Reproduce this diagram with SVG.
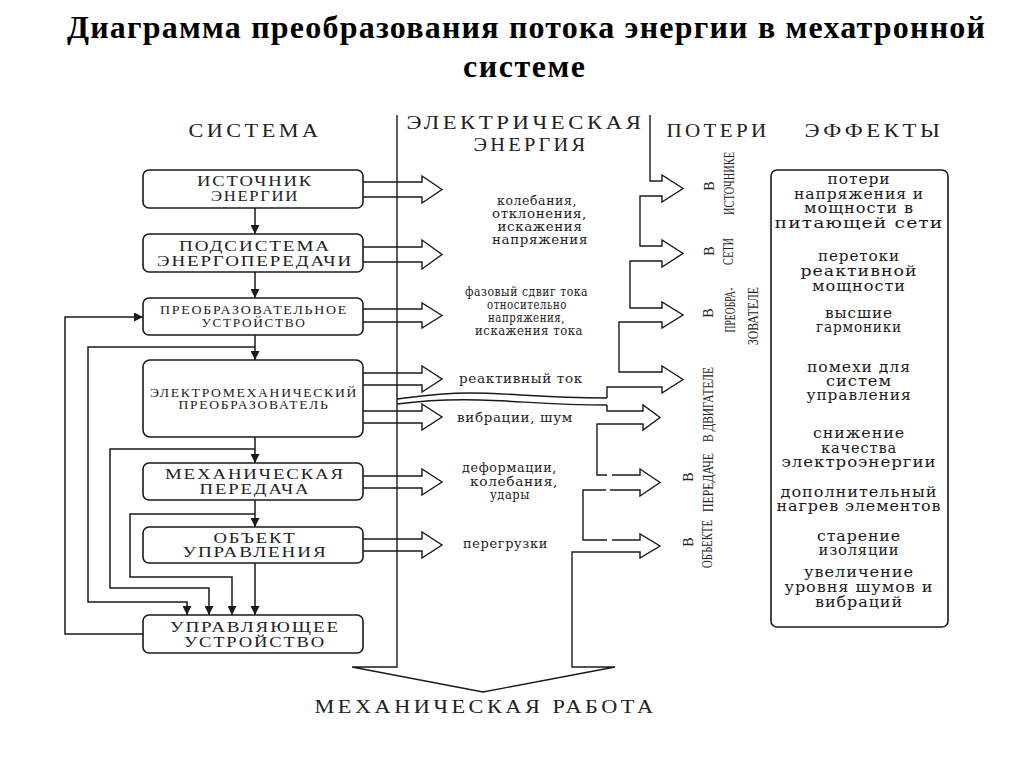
<svg xmlns="http://www.w3.org/2000/svg" width="1024" height="767" viewBox="0 0 1024 767">
<style>
.bg{fill:#fff}
.box{fill:#fff;stroke:#1a1a1a;stroke-width:1.6}
.ln{fill:none;stroke:#1a1a1a;stroke-width:1.5}
.fl{fill:none;stroke:#1a1a1a;stroke-width:1.4;stroke-linejoin:miter}
.ttl{font-family:"Liberation Serif","Times New Roman",serif;font-weight:bold;font-size:32px;fill:#000}
.hd{font-family:"Liberation Serif","Times New Roman",serif;font-size:19px;letter-spacing:3px;fill:#222;text-anchor:middle}
.bx{font-family:"Liberation Serif","Times New Roman",serif;letter-spacing:1.5px;fill:#222;text-anchor:middle}
.md{font-family:"DejaVu Serif","Liberation Serif",serif;font-size:12px;letter-spacing:0.6px;fill:#222;text-anchor:middle}
.ef{font-family:"DejaVu Serif","Liberation Serif",serif;font-size:14px;letter-spacing:0.8px;fill:#1a1a1a;text-anchor:middle}
.vt{font-family:"Liberation Serif","Times New Roman",serif;font-size:14px;fill:#222;text-anchor:middle}
</style>
<defs>
<marker id="ah" viewBox="0 0 10 10" refX="10" refY="5" markerWidth="9" markerHeight="9" markerUnits="userSpaceOnUse" orient="auto">
<path d="M0,0 L10,5 L0,10 z" fill="#1a1a1a"/>
</marker>
</defs>
<rect class="bg" x="0" y="0" width="1024" height="767"/>

<g id="title">
<text class="ttl" x="67" y="38" textLength="918">Диаграмма преобразования потока энергии в мехатронной</text>
<text class="ttl" x="524" y="77" text-anchor="middle" textLength="122">системе</text>
</g>

<g id="headers">
<text class="hd" x="255" y="137" textLength="133" lengthAdjust="spacingAndGlyphs">СИСТЕМА</text>
<text class="hd" x="525.5" y="129" textLength="238" lengthAdjust="spacingAndGlyphs">ЭЛЕКТРИЧЕСКАЯ</text>
<text class="hd" x="531" y="151" textLength="115" lengthAdjust="spacingAndGlyphs">ЭНЕРГИЯ</text>
<text class="hd" x="718" y="137" textLength="103" lengthAdjust="spacingAndGlyphs">ПОТЕРИ</text>
<text class="hd" x="874" y="137" textLength="139" lengthAdjust="spacingAndGlyphs">ЭФФЕКТЫ</text>
<text class="hd" x="485.5" y="713" font-size="20" textLength="342" lengthAdjust="spacingAndGlyphs">МЕХАНИЧЕСКАЯ РАБОТА</text>
</g>

<g id="flows">
<path class="fl" d="M363,182 H422 V176 L442,189.5 L422,203 V197 H363"/>
<path class="fl" d="M363,247 H422 V240 L442,254.5 L422,269 V262 H363"/>
<path class="fl" d="M363,309 H422 V303 L442,315.5 L422,328 V322 H363"/>
<path class="fl" d="M363,373 H422 V366 L442,379 L422,392 V385 H363"/>
<path class="fl" d="M363,411 H422 V404 L442,417 L422,430 V423 H363"/>
<path class="fl" d="M363,476 H422 V469 L442,482 L422,495 V488 H363"/>
<path class="fl" d="M363,539 H422 V532 L442,545 L422,558 V551 H363"/>
<path class="fl" d="M650,115 V181 H662 V175 L683,188.5 L662,202 V196 H640 V246 H662 V240 L683,253.5 L662,267 V261 H630 V308 H662 V302 L683,315 L662,328 V322 H619 V372 H662 V366 L683,379.5 L662,393 V387 H607 V398"/>
<path class="fl" d="M397,399 C420,396 440,393 470,393 C510,393 540,398 607,398"/>
<path class="fl" d="M397,404 C420,401 445,399 480,400 C520,401 550,405 607,405"/>
<path class="fl" d="M607,405 V411 H643 V405 L660,417.5 L643,430 V424 H597 V475 H607 M612,475 H640 V469 L660,482.5 L640,496 V490 H610 M606,490 H583 V540 H607 M612,540 H640 V534 L660,546 L640,558 V552 H572 V667 H615 L483,692 L352,667 H397 V115"/>
</g>

<g id="connectors">
<line class="ln" x1="255" y1="208" x2="255" y2="234" marker-end="url(#ah)"/>
<line class="ln" x1="255" y1="272" x2="255" y2="298" marker-end="url(#ah)"/>
<line class="ln" x1="255" y1="335" x2="255" y2="360" marker-end="url(#ah)"/>
<line class="ln" x1="255" y1="437" x2="255" y2="463" marker-end="url(#ah)"/>
<line class="ln" x1="255" y1="500" x2="255" y2="527" marker-end="url(#ah)"/>
<line class="ln" x1="255" y1="563" x2="255" y2="615" marker-end="url(#ah)"/>
<path class="ln" d="M143,634 H65 V317 H143" marker-end="url(#ah)"/>
<path class="ln" d="M255,347 H88 V602 H187 V615" marker-end="url(#ah)"/>
<path class="ln" d="M255,449 H110 V588 H209 V615" marker-end="url(#ah)"/>
<path class="ln" d="M255,514 H130 V577 H232 V615" marker-end="url(#ah)"/>
</g>

<g id="n-source">
<rect class="box" x="143" y="170" width="220" height="38" rx="6"/>
<text class="bx" x="255" y="186" font-size="15" textLength="116" lengthAdjust="spacingAndGlyphs">ИСТОЧНИК</text>
<text class="bx" x="255" y="201" font-size="15" textLength="88" lengthAdjust="spacingAndGlyphs">ЭНЕРГИИ</text>
</g>
<g id="n-transmission">
<rect class="box" x="143" y="234" width="220" height="38" rx="6"/>
<text class="bx" x="255" y="251" font-size="15" textLength="152" lengthAdjust="spacingAndGlyphs">ПОДСИСТЕМА</text>
<text class="bx" x="255" y="266" font-size="15" textLength="196" lengthAdjust="spacingAndGlyphs">ЭНЕРГОПЕРЕДАЧИ</text>
</g>
<g id="n-converter">
<rect class="box" x="143" y="298" width="220" height="37" rx="6"/>
<text class="bx" x="254" y="314" font-size="12" letter-spacing="0" textLength="188" lengthAdjust="spacingAndGlyphs">ПРЕОБРАЗОВАТЕЛЬНОЕ</text>
<text class="bx" x="254" y="327" font-size="12" letter-spacing="0" textLength="105" lengthAdjust="spacingAndGlyphs">УСТРОЙСТВО</text>
</g>
<g id="n-emconverter">
<rect class="box" x="143" y="360" width="220" height="77" rx="7"/>
<text class="bx" x="254" y="397" font-size="12" letter-spacing="0" textLength="208" lengthAdjust="spacingAndGlyphs">ЭЛЕКТРОМЕХАНИЧЕСКИЙ</text>
<text class="bx" x="254" y="409" font-size="12" letter-spacing="0" textLength="151" lengthAdjust="spacingAndGlyphs">ПРЕОБРАЗОВАТЕЛЬ</text>
</g>
<g id="n-mechtrans">
<rect class="box" x="143" y="463" width="220" height="37" rx="6"/>
<text class="bx" x="255" y="479" font-size="15" textLength="180" lengthAdjust="spacingAndGlyphs">МЕХАНИЧЕСКАЯ</text>
<text class="bx" x="255" y="494" font-size="15" textLength="111" lengthAdjust="spacingAndGlyphs">ПЕРЕДАЧА</text>
</g>
<g id="n-object">
<rect class="box" x="143" y="527" width="220" height="36" rx="6"/>
<text class="bx" x="255" y="543" font-size="15" textLength="83" lengthAdjust="spacingAndGlyphs">ОБЪЕКТ</text>
<text class="bx" x="255" y="557" font-size="15" textLength="145" lengthAdjust="spacingAndGlyphs">УПРАВЛЕНИЯ</text>
</g>
<g id="n-controller">
<rect class="box" x="143" y="615" width="220" height="38" rx="6"/>
<text class="bx" x="255" y="632" font-size="15" textLength="170" lengthAdjust="spacingAndGlyphs">УПРАВЛЯЮЩЕЕ</text>
<text class="bx" x="255" y="647" font-size="15" textLength="142" lengthAdjust="spacingAndGlyphs">УСТРОЙСТВО</text>
</g>

<g id="flow-labels">
<text class="md" x="537" y="205" font-size="11.5" textLength="80" lengthAdjust="spacingAndGlyphs">колебания,</text>
<text class="md" x="539.5" y="218" font-size="11.5" textLength="95" lengthAdjust="spacingAndGlyphs">отклонения,</text>
<text class="md" x="540" y="231" font-size="11.5" textLength="85" lengthAdjust="spacingAndGlyphs">искажения</text>
<text class="md" x="540" y="244" font-size="11.5" textLength="96" lengthAdjust="spacingAndGlyphs">напряжения</text>
<text class="md" x="526.5" y="296" font-size="10.5" letter-spacing="0" textLength="123" lengthAdjust="spacingAndGlyphs">фазовый сдвиг тока</text>
<text class="md" x="527" y="309" font-size="10.5" letter-spacing="0" textLength="80" lengthAdjust="spacingAndGlyphs">относительно</text>
<text class="md" x="526.5" y="322" font-size="10.5" letter-spacing="0" textLength="77" lengthAdjust="spacingAndGlyphs">напряжения,</text>
<text class="md" x="529" y="335" font-size="10.5" letter-spacing="0" textLength="108" lengthAdjust="spacingAndGlyphs">искажения тока</text>
<text class="md" x="521" y="383" textLength="124" lengthAdjust="spacingAndGlyphs">реактивный ток</text>
<text class="md" x="515" y="422" textLength="116" lengthAdjust="spacingAndGlyphs">вибрации, шум</text>
<text class="md" x="509.5" y="472" textLength="95" lengthAdjust="spacingAndGlyphs">деформации,</text>
<text class="md" x="514" y="486" textLength="88" lengthAdjust="spacingAndGlyphs">колебания,</text>
<text class="md" x="510" y="499" textLength="40" lengthAdjust="spacingAndGlyphs">удары</text>
<text class="md" x="505.5" y="548" textLength="85" lengthAdjust="spacingAndGlyphs">перегрузки</text>
</g>

<g id="loss-labels">
<text class="vt" transform="translate(714,186) rotate(-90)">В</text>
<text class="vt" transform="translate(734,183.5) rotate(-90)" textLength="63" lengthAdjust="spacingAndGlyphs">ИСТОЧНИКЕ</text>
<text class="vt" transform="translate(714,251) rotate(-90)">В</text>
<text class="vt" transform="translate(733,251.5) rotate(-90)" textLength="27" lengthAdjust="spacingAndGlyphs">СЕТИ</text>
<text class="vt" transform="translate(713,313) rotate(-90)">В</text>
<text class="vt" transform="translate(735,310) rotate(-90)" textLength="45" lengthAdjust="spacingAndGlyphs">ПРЕОБРА-</text>
<text class="vt" transform="translate(758,316) rotate(-90)" textLength="58" lengthAdjust="spacingAndGlyphs">ЗОВАТЕЛЕ</text>
<text class="vt" transform="translate(713,404.5) rotate(-90)" textLength="75" lengthAdjust="spacingAndGlyphs">В ДВИГАТЕЛЕ</text>
<text class="vt" transform="translate(693,477) rotate(-90)">В</text>
<text class="vt" transform="translate(713,482.5) rotate(-90)" textLength="59" lengthAdjust="spacingAndGlyphs">ПЕРЕДАЧЕ</text>
<text class="vt" transform="translate(693,542) rotate(-90)">В</text>
<text class="vt" transform="translate(712,544) rotate(-90)" textLength="48" lengthAdjust="spacingAndGlyphs">ОБЪЕКТЕ</text>
</g>

<g id="n-effects">
<rect class="box" x="771" y="170" width="177" height="457" rx="6" stroke-width="1.8"/>
<text class="ef" x="859" y="184" textLength="63" lengthAdjust="spacingAndGlyphs">потери</text>
<text class="ef" x="859" y="199" textLength="130" lengthAdjust="spacingAndGlyphs">напряжения и</text>
<text class="ef" x="859" y="213" textLength="110" lengthAdjust="spacingAndGlyphs">мощности в</text>
<text class="ef" x="859" y="228" textLength="169" lengthAdjust="spacingAndGlyphs">питающей сети</text>
<text class="ef" x="859" y="261" textLength="82" lengthAdjust="spacingAndGlyphs">перетоки</text>
<text class="ef" x="859" y="276" textLength="117" lengthAdjust="spacingAndGlyphs">реактивной</text>
<text class="ef" x="859" y="291" textLength="94" lengthAdjust="spacingAndGlyphs">мощности</text>
<text class="ef" x="859" y="318" textLength="68" lengthAdjust="spacingAndGlyphs">высшие</text>
<text class="ef" x="859" y="332" textLength="86" lengthAdjust="spacingAndGlyphs">гармоники</text>
<text class="ef" x="859" y="372" textLength="104" lengthAdjust="spacingAndGlyphs">помехи для</text>
<text class="ef" x="859" y="386" textLength="66" lengthAdjust="spacingAndGlyphs">систем</text>
<text class="ef" x="859" y="400" textLength="105" lengthAdjust="spacingAndGlyphs">управления</text>
<text class="ef" x="859" y="438" textLength="92" lengthAdjust="spacingAndGlyphs">снижение</text>
<text class="ef" x="859" y="453" textLength="76" lengthAdjust="spacingAndGlyphs">качества</text>
<text class="ef" x="859" y="467" textLength="155" lengthAdjust="spacingAndGlyphs">электроэнергии</text>
<text class="ef" x="859" y="497" textLength="157" lengthAdjust="spacingAndGlyphs">дополнительный</text>
<text class="ef" x="859" y="511" textLength="165" lengthAdjust="spacingAndGlyphs">нагрев элементов</text>
<text class="ef" x="859" y="541" textLength="84" lengthAdjust="spacingAndGlyphs">старение</text>
<text class="ef" x="859" y="555" textLength="81" lengthAdjust="spacingAndGlyphs">изоляции</text>
<text class="ef" x="859" y="577" textLength="110" lengthAdjust="spacingAndGlyphs">увеличение</text>
<text class="ef" x="859" y="592" textLength="149" lengthAdjust="spacingAndGlyphs">уровня шумов и</text>
<text class="ef" x="859" y="607" textLength="88" lengthAdjust="spacingAndGlyphs">вибраций</text>
</g>
</svg>
